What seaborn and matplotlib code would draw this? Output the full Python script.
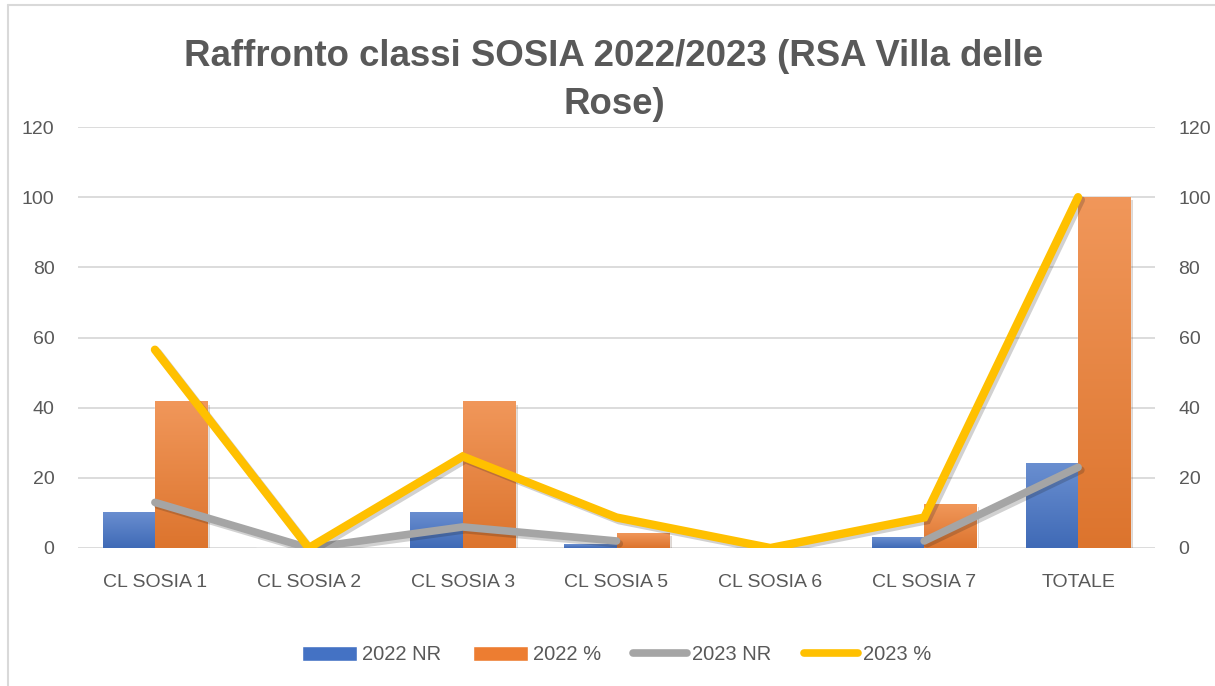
import numpy as np
import pandas as pd
import seaborn as sns
import matplotlib.pyplot as plt
import matplotlib.colors as mcolors
from matplotlib.patches import Patch
from matplotlib.lines import Line2D
from matplotlib import patheffects as pe

# === data ===
categories = ["CL SOSIA 1", "CL SOSIA 2", "CL SOSIA 3", "CL SOSIA 5",
              "CL SOSIA 6", "CL SOSIA 7", "TOTALE"]
nr_2022 = [10, 0, 10, 1, 0, 3, 24]
pct_2022 = [41.67, 0, 41.67, 4.17, 0, 12.5, 100]
nr_2023 = [13, 0, 6, 2, np.nan, 2, 23]      # blank cell for CL SOSIA 6
pct_2023 = [56.52, 0, 26.09, 8.7, 0, 8.7, 100]
series_names = ["2022 NR", "2022 %", "2023 NR", "2023 %"]
y_ticks = [0, 20, 40, 60, 80, 100, 120]
title_lines = ["Raffronto classi SOSIA 2022/2023 (RSA Villa delle", "Rose)"]

TXT = "#595959"
BLUE = "#4472C4"
ORANGE = "#ED7D31"
GRAY = "#A5A5A5"
GOLD = "#FFC000"
GRID = "#D9D9D9"

sns.set_theme(style="white")
plt.rcParams["font.family"] = ["Liberation Sans", "DejaVu Sans"]

W, H = 1215, 686
fig = plt.figure(figsize=(W / 100, H / 100), dpi=100)
ax = fig.add_axes([78 / W, 1 - 548 / H, (1155 - 78) / W, (548 - 127) / H])

# === bars (2022) ===
bars = pd.DataFrame({
    "cat": categories * 2,
    "serie": [series_names[0]] * len(categories) + [series_names[1]] * len(categories),
    "val": nr_2022 + pct_2022,
})
sns.barplot(data=bars, x="cat", y="val", hue="serie", palette=[BLUE, ORANGE],
            saturation=1, width=0.68, gap=0, legend=False, ax=ax)

# excel-like vertical gradient + soft shadow on each bar
for p in list(ax.patches):
    h = p.get_height()
    if not h or h <= 0:
        continue
    c = np.array(mcolors.to_rgb(p.get_facecolor()))
    top = c + (1 - c) * 0.2
    bot = c * 0.93
    t = np.linspace(0, 1, 80)[:, None, None]
    img = top * (1 - t) + bot * t
    ax.imshow(img, extent=[p.get_x(), p.get_x() + p.get_width(), p.get_y(), p.get_y() + h],
              origin="upper", aspect="auto", zorder=p.get_zorder() + 0.1, interpolation="bilinear")
    p.set_path_effects([pe.SimplePatchShadow(offset=(2, -2), alpha=0.18), pe.Normal()])

ax.set_xlim(-0.5, len(categories) - 0.5)
ax.set_ylim(0, 120)
ax.set_yticks(y_ticks)
ax.grid(axis="y", color=GRID, lw=1.3)
ax.set_axisbelow(True)
ax.set_xlabel("")
ax.set_ylabel("")
ax.tick_params(axis="both", length=0, labelsize=14, labelcolor=TXT)
ax.tick_params(axis="y", pad=17)
ax.tick_params(axis="x", pad=19)
sns.despine(ax=ax, left=True, bottom=True)

# === lines (2023) on secondary axis ===
ax2 = ax.twinx()
shadow = [pe.SimpleLineShadow(offset=(2, -2), alpha=0.2), pe.Normal()]
gray_df = pd.DataFrame({"pos": range(len(categories)), "val": nr_2023})
gray_df["seg"] = gray_df["val"].isna().cumsum()
gray_df = gray_df.dropna()
sns.lineplot(data=gray_df, x="pos", y="val", units="seg", estimator=None, color=GRAY,
             lw=5.5, solid_capstyle="round", solid_joinstyle="miter",
             path_effects=shadow, ax=ax2)
gold_df = pd.DataFrame({"pos": range(len(categories)), "val": pct_2023})
sns.lineplot(data=gold_df, x="pos", y="val", color=GOLD, lw=6,
             solid_capstyle="round", solid_joinstyle="miter",
             path_effects=shadow, ax=ax2)
ax2.set_xlim(-0.5, len(categories) - 0.5)
ax2.set_ylim(0, 120)
ax2.set_yticks(y_ticks)
ax2.set_ylabel("")
ax2.set_xlabel("")
ax2.tick_params(axis="y", length=0, labelsize=14, labelcolor=TXT, pad=17)
ax2.grid(False)
for s in ax2.spines.values():
    s.set_visible(False)

# === title ===
fig.canvas.draw()
r = fig.canvas.get_renderer()
t1 = fig.text(614 / W, 1 - 57 / H, title_lines[0], ha="center", va="center",
              fontsize=24, weight="bold", color=TXT,
              family=["Liberation Sans Narrow", "Liberation Sans", "DejaVu Sans"])
w1 = t1.get_window_extent(r).width
fs = 24 * 862 / w1
t1.set_fontsize(fs)
fig.text(614 / W, 1 - 104 / H, title_lines[1], ha="center", va="center",
         fontsize=fs, weight="bold", color=TXT,
         family=["Liberation Sans Narrow", "Liberation Sans", "DejaVu Sans"])

# === legend ===
handles = [Patch(facecolor=BLUE), Patch(facecolor=ORANGE),
           Line2D([0], [0], color=GRAY, lw=5.5, solid_capstyle="round"),
           Line2D([0], [0], color=GOLD, lw=5.5, solid_capstyle="round")]
fig.legend(handles, series_names, loc="center", bbox_to_anchor=(617 / W, 1 - 655 / H),
           ncol=4, frameon=False, fontsize=14.5, labelcolor=TXT,
           handlelength=2.7, handletextpad=0.25, columnspacing=1.6)

# chart frame (left and top edges visible in the reference)
fig.add_artist(Line2D([8 / W, 8 / W], [0, 1 - 5 / H], transform=fig.transFigure, color=GRID, lw=1.5))
fig.add_artist(Line2D([8 / W, 1], [1 - 5 / H, 1 - 5 / H], transform=fig.transFigure, color=GRID, lw=1.5))

fig.savefig("out.png", dpi=100)
plt.close(fig)
